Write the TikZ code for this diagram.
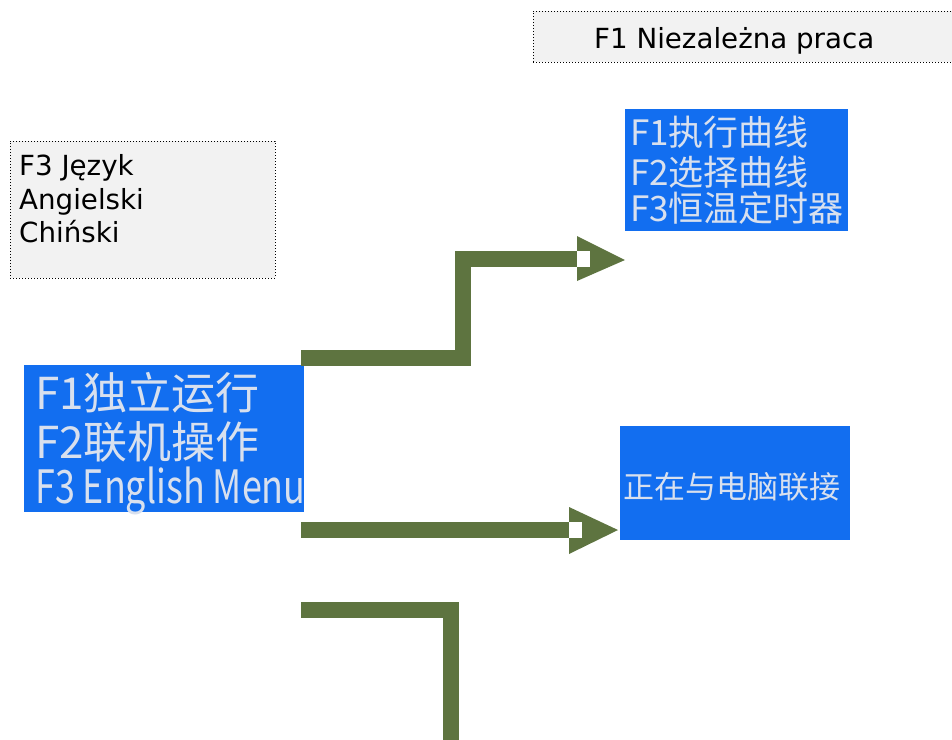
\documentclass[tikz,border=0pt]{standalone}
\usepackage{fontspec}
\setmainfont{DejaVu Sans}
\newfontfamily\cjk{Noto Sans CJK SC}
\definecolor{arrowgreen}{RGB}{94,116,64}
\definecolor{lcdblue}{RGB}{18,110,240}
\definecolor{lcdtext}{RGB}{216,224,238}
\definecolor{notegray}{RGB}{242,242,242}
\begin{document}
\begin{tikzpicture}[x=1pt,y=-1pt,
  note/.style={draw=black,dotted,line width=1pt,fill=notegray,inner sep=0pt},
  notetext/.style={inner sep=0pt,anchor=base west,font=\fontsize{27.7}{33}\selectfont},
  screen/.style={fill=lcdblue,draw=none,inner sep=0pt},
  lcd/.style={font=\cjk,text=lcdtext,inner sep=0pt,anchor=west},
  conn/.style={draw=arrowgreen,line width=16pt,line join=miter,line cap=butt},
  head/.style={fill=arrowgreen,draw=none},
  notch/.style={fill=white,draw=none}]
\useasboundingbox (0,0) rectangle (952,739);

% notes
\node[note,minimum width=422pt,minimum height=51pt] (n1) at (744,36.5) {};
\node[notetext] (n1t) at (594,48) {F1 Niezależna praca};
\node[note,minimum width=265pt,minimum height=137pt] (n2) at (142.5,209.5) {};
\node[notetext] (n2a) at (19,175.5) {F3 Język};
\node[notetext] (n2b) at (19,209) {Angielski};
\node[notetext] (n2c) at (19,242.5) {Chiński};

% screens
\node[screen,minimum width=280pt,minimum height=147pt] (s1) at (164,438.5) {};
\node[lcd,font=\cjk\fontsize{44}{44}\selectfont] (s1a) at (35,393) {F1独立运行};
\node[lcd,font=\cjk\fontsize{44}{44}\selectfont] (s1b) at (35,442) {F2联机操作};
\node[lcd,font=\cjk\fontsize{46}{46}\selectfont] (s1c) at (35,491) {\scalebox{0.78}[1]{F3 English Menu}};

\node[screen,minimum width=223pt,minimum height=122pt] (s2) at (736.5,170) {};
\node[lcd,font=\cjk\fontsize{35}{35}\selectfont] (s2a) at (630,132) {F1执行曲线};
\node[lcd,font=\cjk\fontsize{35}{35}\selectfont] (s2b) at (630,172) {F2选择曲线};
\node[lcd,font=\cjk\fontsize{35}{35}\selectfont] (s2c) at (630,208) {F3恒温定时器};

\node[screen,minimum width=230pt,minimum height=114pt] (s3) at (735,483) {};
\node[lcd,font=\cjk\fontsize{31}{31}\selectfont] (s3a) at (623,487) {正在与电脑联接};

% connector coordinates
\coordinate (a1) at (301,358);
\coordinate (a1b) at (463,358);
\coordinate (a1c) at (463,259);
\coordinate (a1d) at (577,259);
\coordinate (a1t) at (625,260);
\coordinate (a2) at (301,530);
\coordinate (a2d) at (569,530);
\coordinate (a2t) at (618,530);
\coordinate (a3) at (301,610);
\coordinate (a3b) at (450.5,610);
\coordinate (a3e) at (450.5,745);

% connector 1
\draw[conn] (a1) -- (a1b) -- (a1c) -- (a1d);
\fill[head] ([yshift=-22pt]a1d) -- (a1t) -- ([yshift=23pt]a1d) -- cycle;
\fill[notch] ([yshift=-8pt]a1d) rectangle ([xshift=13pt,yshift=8pt]a1d);

% connector 2
\draw[conn] (a2) -- (a2d);
\fill[head] ([yshift=-24pt]a2d) -- (a2t) -- ([yshift=23pt]a2d) -- cycle;
\fill[notch] ([yshift=-8pt]a2d) rectangle ([xshift=13pt,yshift=8pt]a2d);

% connector 3
\draw[conn] (a3) -- (a3b) -- (a3e);
\end{tikzpicture}
\end{document}
